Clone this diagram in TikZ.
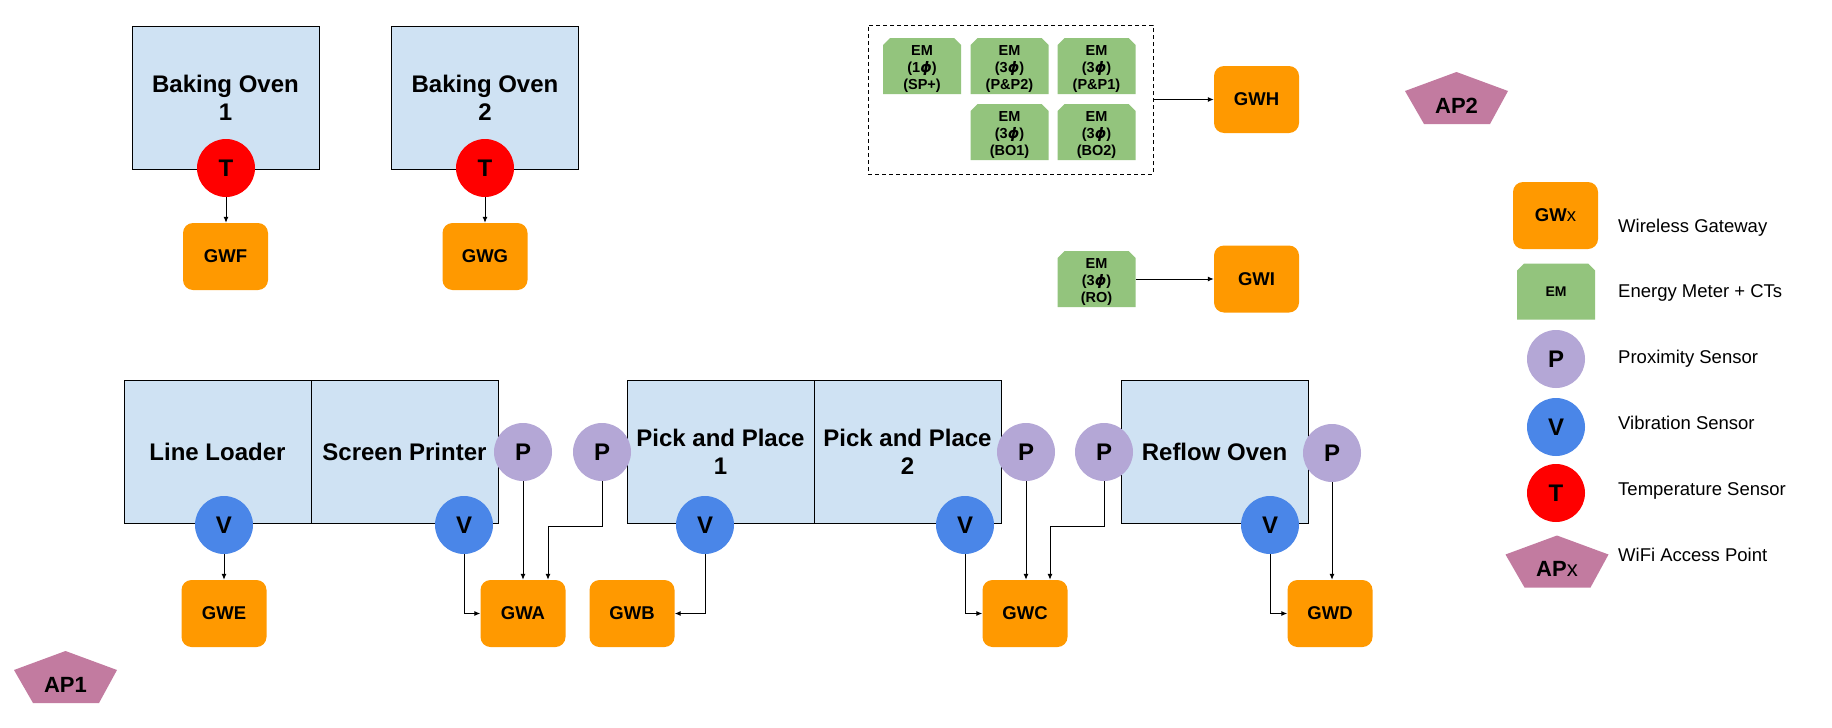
\documentclass[tikz,border=0pt]{standalone}
\usepackage{fontspec}
\setmainfont{Liberation Sans}
\newfontfamily\phifont{DejaVu Sans}
\usetikzlibrary{arrows.meta,calc}
\definecolor{boxblue}{HTML}{CFE2F3}
\definecolor{gworange}{HTML}{FF9900}
\definecolor{emgreen}{HTML}{93C47D}
\definecolor{plav}{HTML}{B4A7D6}
\definecolor{vblue}{HTML}{4A86E8}
\definecolor{tred}{HTML}{FF0000}
\definecolor{appink}{HTML}{C27BA0}
\newcommand{\phis}{{\phifont\bfseries\itshape ϕ}}
\newcommand{\emtop}{\rule{0pt}{16.5pt}}
\begin{document}
\begin{tikzpicture}[x=1pt,y=-1pt,
  machine/.style={draw=black, line width=1pt, fill=boxblue, minimum width=187pt, minimum height=143pt, inner sep=0pt, align=center, font=\fontsize{24}{28}\selectfont\bfseries},
  gw/.style={fill=gworange, rounded corners=10pt, minimum width=85pt, minimum height=67pt, inner sep=0pt, font=\fontsize{18.5}{22}\selectfont\bfseries},
  sensor/.style={circle, minimum size=58pt, inner sep=0pt, font=\fontsize{24}{28}\selectfont\bfseries},
  psens/.style={sensor, fill=plav},
  vsens/.style={sensor, fill=vblue},
  tsens/.style={sensor, fill=tred},
  em/.style={minimum width=78pt, minimum height=56pt, inner sep=0pt, align=center, font=\fontsize{14.5}{17}\selectfont\bfseries,
    path picture={\fill[emgreen] (path picture bounding box.south west) -- ($(path picture bounding box.north west)+(0,7)$) -- ($(path picture bounding box.north west)+(7,0)$) -- ($(path picture bounding box.north east)+(-7,0)$) -- ($(path picture bounding box.north east)+(0,7)$) -- (path picture bounding box.south east) -- cycle;}},
  ap/.style={minimum width=103pt, minimum height=52pt, inner sep=0pt, text height=30pt, text depth=0pt, font=\fontsize{22}{26}\selectfont,
    path picture={\fill[appink] ($(path picture bounding box.north west)+(51.5,0)$) -- ($(path picture bounding box.north west)+(103,19)$) -- ($(path picture bounding box.north west)+(85,52)$) -- ($(path picture bounding box.north west)+(19,52)$) -- ($(path picture bounding box.north west)+(0,19)$) -- cycle;}},
  arr/.style={draw=black, line width=1pt, -{Latex[length=6pt,width=5pt]}},
  legtext/.style={anchor=base west, inner sep=0pt, font=\fontsize{18.5}{22}\selectfont},
  grp/.style={draw=black, line width=1pt, dash pattern=on 4pt off 3pt, minimum width=285pt, minimum height=149pt, inner sep=0pt}
]
\useasboundingbox[fill=white] (0,0) rectangle (1832,728);

% ---- baking ovens ----
\node[machine] (bo1) at (225.5,97.5) {Baking Oven\\1};
\node[machine] (bo2) at (485,97.5) {Baking Oven\\2};
\node[tsens] (t1) at (226,168) {T};
\node[tsens] (t2) at (485,168) {T};
\node[gw] (gwf) at (225.5,256.5) {GWF};
\node[gw] (gwg) at (485,256.5) {GWG};
\draw[arr] (t1.south) -- (t1.south |- gwf.north);
\draw[arr] (t2.south) -- (t2.south |- gwg.north);

% ---- energy meters ----
\node[grp] (emgrp) at (1010.5,99.5) {};
\node[em] (em1) at (922,66) {\emtop EM\\(1\phis)\\(SP+)};
\node[em] (em2) at (1009.5,66) {\emtop EM\\(3\phis)\\(P\&P2)};
\node[em] (em3) at (1096.5,66) {\emtop EM\\(3\phis)\\(P\&P1)};
\node[em] (em4) at (1009.5,132) {\emtop EM\\(3\phis)\\(BO1)};
\node[em] (em5) at (1096.5,132) {\emtop EM\\(3\phis)\\(BO2)};
\node[gw] (gwh) at (1256.5,99.5) {GWH};
\draw[arr] (emgrp.east) -- (gwh.west);
\node[em] (emro) at (1096.5,279) {\emtop EM\\(3\phis)\\(RO)};
\node[gw] (gwi) at (1256.5,279) {GWI};
\draw[arr] (emro.east) -- (gwi.west);

% ---- production line ----
\node[machine] (ll) at (217.5,451.5) {Line Loader};
\node[machine] (sp) at (404.5,451.5) {Screen Printer};
\node[machine] (pp1) at (720.5,451.5) {Pick and Place\\1};
\node[machine] (pp2) at (907.5,451.5) {Pick and Place\\2};
\node[machine] (ro) at (1214.5,451.5) {Reflow Oven};

\node[vsens] (vll) at (224,525) {V};
\node[vsens] (vsp) at (464,525) {V};
\node[vsens] (vpp1) at (705,525) {V};
\node[vsens] (vpp2) at (965,525) {V};
\node[vsens] (vro) at (1270,525) {V};

\node[psens] (psp) at (523,452) {P};
\node[psens] (ppp1) at (602,452) {P};
\node[psens] (ppp2) at (1026,452) {P};
\node[psens] (pro1) at (1104,452) {P};
\node[psens] (pro2) at (1332,453) {P};

\node[gw] (gwe) at (224,613.5) {GWE};
\node[gw] (gwa) at (523,613.5) {GWA};
\node[gw] (gwb) at (632,613.5) {GWB};
\node[gw] (gwc) at (1025,613.5) {GWC};
\node[gw] (gwd) at (1330,613.5) {GWD};

\coordinate (ja) at (602,526);
\coordinate (jc) at (1104,526);

\draw[arr] (vll.south) -- (vll.south |- gwe.north);
\draw[arr] (vsp.south) |- (gwa.west);
\draw[arr] (psp.south) -- (psp.south |- gwa.north);
\draw[arr] (ppp1.south) -- (ja) -| ([xshift=25pt]gwa.north);
\draw[arr] (vpp1.south) |- (gwb.east);
\draw[arr] (vpp2.south) |- (gwc.west);
\draw[arr] (ppp2.south) -- (ppp2.south |- gwc.north);
\draw[arr] (pro1.south) -- (jc) -| ([xshift=25pt]gwc.north);
\draw[arr] (vro.south) |- (gwd.west);
\draw[arr] (pro2.south) -- (pro2.south |- gwd.north);

% ---- access points ----
\node[ap] (ap1) at (65.5,677) {\bfseries AP1};
\node[ap] (ap2) at (1456.5,98) {\bfseries AP2};

% ---- legend ----
\node[gw] (lgw) at (1555.5,215.5) {GW\mdseries x};
\node[em] (lem) at (1556,291.5) {\fontsize{14}{17}\selectfont EM};
\node[psens] (lp) at (1556,359) {P};
\node[vsens] (lv) at (1556,427) {V};
\node[tsens] (lt) at (1556,493) {T};
\node[ap] (lap) at (1557,561.5) {{\bfseries AP}x};
\node[legtext] (l1) at (1618,232) {Wireless Gateway};
\node[legtext] (l2) at (1618,297) {Energy Meter + CTs};
\node[legtext] (l3) at (1618,363) {Proximity Sensor};
\node[legtext] (l4) at (1618,429) {Vibration Sensor};
\node[legtext] (l5) at (1618,495) {Temperature Sensor};
\node[legtext] (l6) at (1618,561) {WiFi Access Point};
\end{tikzpicture}
\end{document}
